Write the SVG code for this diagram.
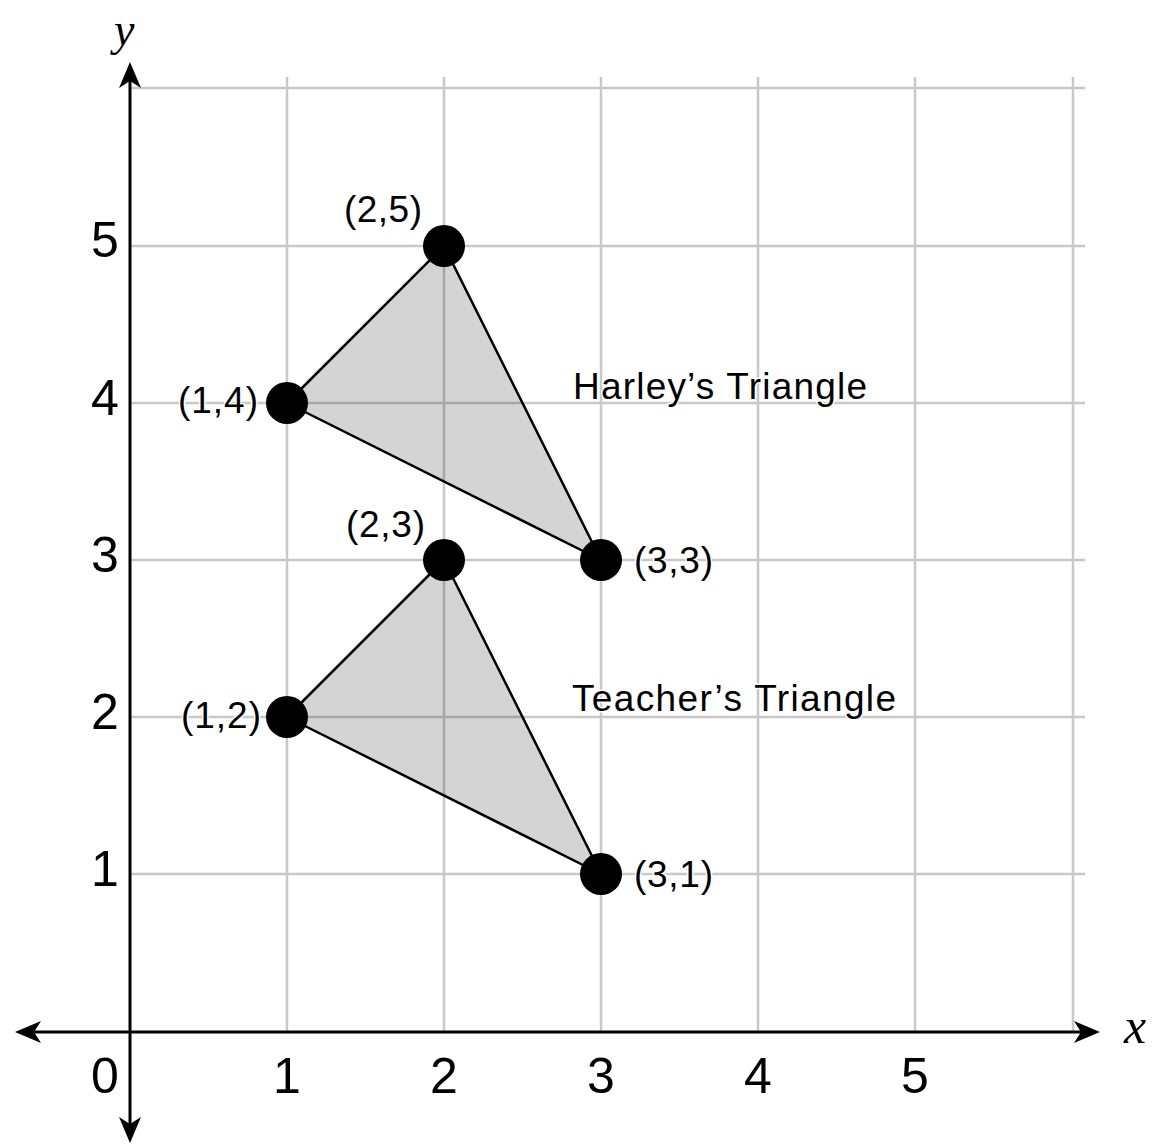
<svg xmlns="http://www.w3.org/2000/svg" xmlns:xlink="http://www.w3.org/1999/xlink" width="1153" height="1145" viewBox="0 0 1153 1145">
<style>
.grid{stroke:#c8c8c8;stroke-width:2.5;fill:none}
.axis{stroke:#000;stroke-width:3;fill:none}
.tri{fill:#000;fill-opacity:0.17;stroke:none}
.edge{fill:none;stroke:#000;stroke-width:2.5;stroke-linejoin:round}
.dot{fill:#000}
.tick{font-family:"Liberation Sans",Arial,sans-serif;font-size:50px;fill:#000;text-anchor:middle}
.lab{font-family:"Liberation Sans",Arial,sans-serif;font-size:37px;fill:#000;stroke:#fff;stroke-width:3;paint-order:stroke;stroke-linejoin:round}
.var{font-family:"Liberation Serif","Times New Roman",serif;font-style:italic;font-size:50px;fill:#000}
</style>
<defs>
<path id="ah" d="M0,0 L-26,-11 L-19,0 L-26,11 Z" fill="#000"/>
</defs>
<rect width="1153" height="1145" fill="#fff"/>
<g id="grid">
<path class="grid" d="M287,77V1032M444,77V1032M601,77V1032M758,77V1032M915,77V1032M1073,77V1032"/>
<path class="grid" d="M130,88H1085M130,246H1085M130,403H1085M130,560H1085M130,717H1085M130,874H1085"/>
</g>
<g id="triangles">
<g id="harley-triangle">
<polygon class="tri" points="287,403 444,246 601,560"/>
<polygon class="edge" points="287,403 444,246 601,560"/>
</g>
<g id="teacher-triangle">
<polygon class="tri" points="287,717 444,560 601,874"/>
<polygon class="edge" points="287,717 444,560 601,874"/>
</g>
</g>
<g id="axes">
<path class="axis" d="M130,75V1130"/>
<path class="axis" d="M28,1032H1088"/>
<use xlink:href="#ah" transform="translate(130,62) rotate(-90)"/>
<use xlink:href="#ah" transform="translate(130,1143) rotate(90)"/>
<use xlink:href="#ah" transform="translate(15,1032) rotate(180)"/>
<use xlink:href="#ah" transform="translate(1100,1032)"/>
<text class="var" x="114" y="45" style="font-size:46px">y</text>
<text class="var" x="1124" y="1043">x</text>
</g>
<g id="ticks">
<text class="tick" x="105" y="257">5</text>
<text class="tick" x="105" y="415">4</text>
<text class="tick" x="105" y="572">3</text>
<text class="tick" x="105" y="729">2</text>
<text class="tick" x="105" y="886">1</text>
<text class="tick" x="105" y="1093">0</text>
<text class="tick" x="287" y="1093">1</text>
<text class="tick" x="444" y="1093">2</text>
<text class="tick" x="601" y="1093">3</text>
<text class="tick" x="758" y="1093">4</text>
<text class="tick" x="915" y="1093">5</text>
</g>
<g id="points">
<g id="p-1-4"><circle class="dot" cx="287" cy="403" r="21"/><text class="lab" x="178" y="413" textLength="80">(1,4)</text></g>
<g id="p-2-5"><circle class="dot" cx="444" cy="246" r="21"/><text class="lab" x="344" y="222" textLength="78">(2,5)</text></g>
<g id="p-3-3"><circle class="dot" cx="601" cy="560" r="21"/><text class="lab" x="634" y="573" textLength="79">(3,3)</text></g>
<g id="p-1-2"><circle class="dot" cx="287" cy="717" r="21"/><text class="lab" x="181" y="728" textLength="80">(1,2)</text></g>
<g id="p-2-3"><circle class="dot" cx="444" cy="560" r="21"/><text class="lab" x="346" y="537" textLength="79">(2,3)</text></g>
<g id="p-3-1"><circle class="dot" cx="601" cy="874" r="21"/><text class="lab" x="634" y="887" textLength="79">(3,1)</text></g>
</g>
<g id="titles">
<text class="lab" x="573" y="399" textLength="294">Harley’s Triangle</text>
<text class="lab" x="572" y="711" textLength="324">Teacher’s Triangle</text>
</g>
</svg>
